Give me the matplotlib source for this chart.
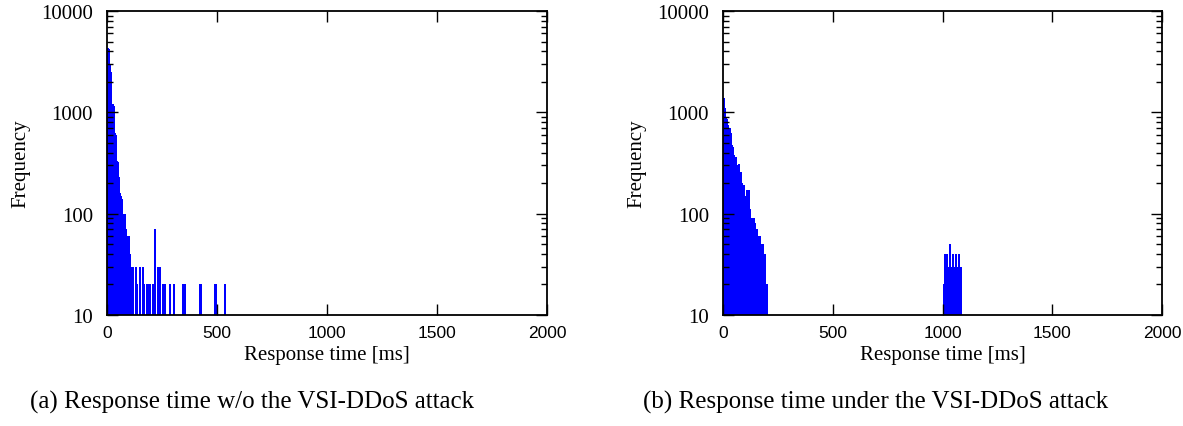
import matplotlib.pyplot as plt
import numpy as np

# (a) without attack: histogram bins (left edge, ms) and frequencies
times_a = [0, 5, 10, 15, 20, 25, 30, 35, 40, 45, 50, 55, 60, 65, 70, 75, 80, 85,
           90, 95, 100, 105, 110, 115, 125, 130, 145, 160, 165, 175, 185, 190,
           205, 210, 215, 225, 235, 250, 255, 260, 280, 300,
           340, 350, 420, 485, 490, 530]
freq_a = [4300, 4200, 3000, 2500, 1200, 1150, 630, 600, 330, 320, 230, 160, 150,
          140, 100, 100, 70, 60, 50, 60, 40, 30, 20, 30, 30, 20, 30, 30, 20, 20,
          20, 20, 20, 20, 70, 30, 30, 20, 20, 20, 20, 20,
          20, 20, 20, 20, 20, 20]

# (b) under attack
times_b = [0, 5, 10, 15, 20, 25, 30, 35, 40, 45, 50, 55, 60, 65, 70, 75, 80, 85,
           90, 95, 100, 105, 110, 115, 120, 125, 130, 135, 140, 145, 150, 155, 160,
           165, 170, 175, 180, 185, 190, 195,
           1000, 1005, 1010, 1015, 1020, 1025, 1030, 1035, 1040, 1045, 1050, 1055,
           1065, 1070, 1075, 1080]
freq_b = [1400, 1100, 900, 850, 750, 700, 620, 480, 460, 380, 290, 360, 300, 240,
          310, 260, 200, 190, 190, 150, 150, 170, 140, 170, 110, 90, 90, 90, 80,
          60, 70, 50, 60, 60, 40, 50, 20, 40, 20, 20,
          20, 40, 30, 40, 30, 30, 50, 30, 20, 40, 30, 40,
          30, 40, 30, 30]

bin_w = 5
xticks = [0, 500, 1000, 1500, 2000]
yticks = [10, 100, 1000, 10000]

serif = 'Liberation Serif'
sans = 'Liberation Sans'

fig = plt.figure(figsize=(11.83, 4.27), dpi=100)
ax_a = fig.add_axes([107 / 1183, 1 - 316 / 427, 440 / 1183, 304 / 427])
ax_b = fig.add_axes([723 / 1183, 1 - 316 / 427, 439 / 1183, 304 / 427])

for ax, t, f in [(ax_a, times_a, freq_a), (ax_b, times_b, freq_b)]:
    ax.bar(t, f, width=bin_w, align='edge', color='#0000ff',
           edgecolor='#0000ff', linewidth=0.6, antialiased=False)
    ax.set_yscale('log')
    ax.set_ylim(10, 10000)
    ax.set_xlim(0, 2000)
    ax.set_xticks(xticks)
    ax.set_xticklabels([str(v) for v in xticks], family=sans, fontsize=12.5)
    ax.set_yticks(yticks)
    ax.set_yticklabels([str(v) for v in yticks], family=serif, fontsize=15)
    ax.tick_params(which='both', direction='in', top=True, right=True, width=1)
    ax.tick_params(which='major', length=8)
    ax.tick_params(which='minor', length=4)
    ax.tick_params(axis='x', pad=7)
    ax.tick_params(axis='y', pad=10)
    for s in ax.spines.values():
        s.set_linewidth(1.3)
    ax.set_xlabel('Response time [ms]', family=serif, fontsize=15, labelpad=4)
    ax.set_ylabel('Frequency', family=serif, fontsize=15, labelpad=8)

fig.text(252 / 1183, 1 - 402 / 427, '(a) Response time w/o the VSI-DDoS attack',
         family=serif, fontsize=18, ha='center', va='center')
fig.text(876 / 1183, 1 - 402 / 427, '(b) Response time under the VSI-DDoS attack',
         family=serif, fontsize=18, ha='center', va='center')

fig.savefig('out.png', dpi=100)
